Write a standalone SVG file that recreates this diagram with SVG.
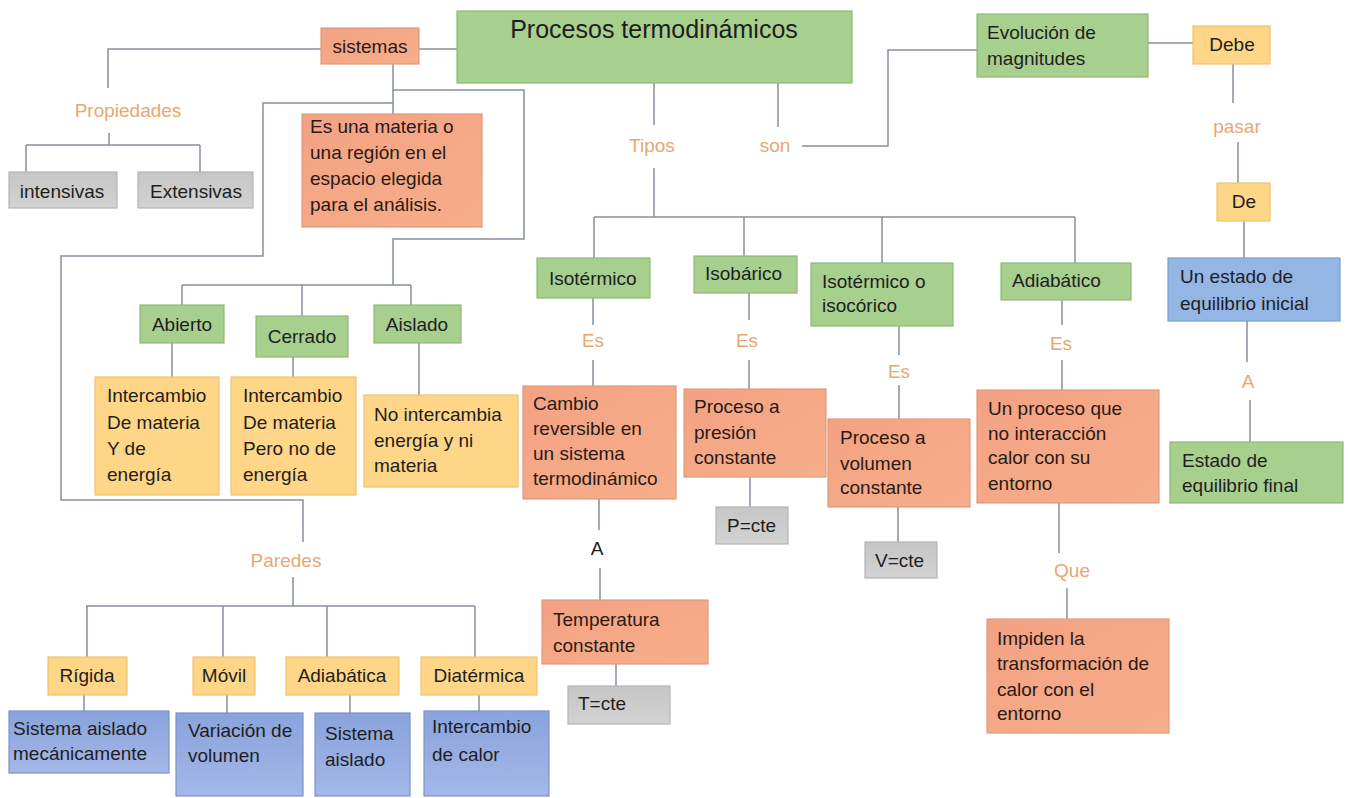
<svg xmlns="http://www.w3.org/2000/svg" width="1348" height="798" viewBox="0 0 1348 798">
<defs>
<style>
.g{fill:#A7CF8E;stroke:#8DB974;stroke-width:1.2}
.o{fill:url(#og);stroke:#E29A79;stroke-width:1.2}
.y{fill:#FFD687;stroke:#F1C46E;stroke-width:1.2}
.k{fill:url(#kg);stroke:#B4B4B4;stroke-width:1.2}
.b{fill:url(#bg);stroke:#7B93C9;stroke-width:1.2}
.lb{fill:#93B6E5;stroke:#7C9FD0;stroke-width:1.2}
text{font-family:"Liberation Sans",Arial,sans-serif;font-size:19px;fill:#1E1E1E}
.c{text-anchor:middle}
.lab{fill:#E8A772}
.dk{fill:#2A1A14}
#conn path{fill:none;stroke:#86909E;stroke-width:1.5}
</style>
<linearGradient id="og" x1="0" y1="0" x2="1" y2="1"><stop offset="0" stop-color="#F3A283"/><stop offset="1" stop-color="#F7AE8A"/></linearGradient>
<linearGradient id="kg" x1="0" y1="0" x2="0" y2="1"><stop offset="0" stop-color="#C6C6C6"/><stop offset="1" stop-color="#D2D2D2"/></linearGradient>
<linearGradient id="bg" x1="0" y1="0" x2="0" y2="1"><stop offset="0" stop-color="#8AA3DC"/><stop offset="1" stop-color="#A4B7E8"/></linearGradient>
</defs>
<rect width="1348" height="798" fill="#FFFFFF"/>
<g id="conn">
<path d="M321,49 H108 V88"/>
<path d="M109,133 V145 M26,145 H200 M26,145 V172 M200,145 V172"/>
<path d="M419,49 H457"/>
<path d="M393,64 V114"/>
<path d="M393,90 H524 V239 H393 V285"/>
<path d="M393,103 H263 V256 H61 V500 H303 V542"/>
<path d="M293,577 V606 M86,606 H475 M87,606 V657 M223,606 V657 M327,606 V657 M475,606 V657"/>
<path d="M84,695 V711 M227,695 V713 M350,695 V713 M479,695 V711"/>
<path d="M182,285 H411 M182,285 V305 M302,285 V316 M411,285 V305"/>
<path d="M172,343 V377 M293,357 V377 M419,343 V395"/>
<path d="M654,83 V125 M654,168 V217 M594,217 H1075 M594,217 V258 M744,217 V256 M882,217 V263 M1075,217 V263"/>
<path d="M778,83 V127 M802,146 H888 V50 H977"/>
<path d="M1148,43 H1193 M1233,64 V103 M1238,142 V183 M1244,221 V258 M1247,321 V362 M1250,400 V442"/>
<path d="M593,298 V325 M593,360 V386"/>
<path d="M749,293 V320 M749,360 V389"/>
<path d="M899,326 V355 M899,385 V419"/>
<path d="M1062,300 V325 M1062,360 V390"/>
<path d="M599,499 V530 M600,568 V600"/>
<path d="M750,477 V507 M898,507 V542 M616,664 V686"/>
<path d="M1059,503 V553 M1067,588 V619"/>
</g>
<g id="labels">
<text class="lab c" x="128" y="117">Propiedades</text>
<text class="lab c" x="652" y="152">Tipos</text>
<text class="lab c" x="775" y="152">son</text>
<text class="lab c" x="1237" y="133">pasar</text>
<text class="lab c" x="1248" y="388">A</text>
<text class="lab c" x="593" y="347">Es</text>
<text class="lab c" x="747" y="347">Es</text>
<text class="lab c" x="899" y="378">Es</text>
<text class="lab c" x="1061" y="350">Es</text>
<text class="lab c" x="1072" y="577">Que</text>
<text class="lab c" x="286" y="567">Paredes</text>
<text class="c" x="597" y="555">A</text>
</g>
<g id="n-procesos"><rect class="g" x="457" y="11" width="395" height="72"/><text class="c" x="654" y="38" style="font-size:25px">Procesos termodinámicos</text></g>
<g id="n-sistemas"><rect class="o" x="321" y="28" width="98" height="36"/><text class="c dk" x="370" y="53">sistemas</text></g>
<g id="n-evolucion"><rect class="g" x="977" y="14" width="171" height="63"/><text x="987" y="39">Evolución de</text><text x="987" y="65">magnitudes</text></g>
<g id="n-debe"><rect class="y" x="1193" y="26" width="77" height="38"/><text class="c" x="1232" y="51">Debe</text></g>
<g id="n-de"><rect class="y" x="1217" y="183" width="53" height="38"/><text class="c" x="1244" y="208">De</text></g>
<g id="n-inicial"><rect class="lb" x="1168" y="258" width="172" height="63"/><text x="1180" y="283">Un estado de</text><text x="1180" y="310">equilibrio inicial</text></g>
<g id="n-final"><rect class="g" x="1170" y="442" width="173" height="61"/><text x="1182" y="467">Estado de</text><text x="1182" y="492">equilibrio final</text></g>
<g id="n-intensivas"><rect class="k" x="9" y="172" width="108" height="36"/><text class="c" x="62" y="198">intensivas</text></g>
<g id="n-extensivas"><rect class="k" x="138" y="172" width="115" height="36"/><text class="c" x="196" y="198">Extensivas</text></g>
<g id="n-materia"><rect class="o" x="302" y="114" width="180" height="113"/><text class="dk" x="310" y="133">Es una materia o</text><text class="dk" x="310" y="159">una región en el</text><text class="dk" x="310" y="185">espacio elegida</text><text class="dk" x="310" y="211">para el análisis.</text></g>
<g id="n-abierto"><rect class="g" x="140" y="305" width="84" height="38"/><text class="c" x="182" y="331">Abierto</text></g>
<g id="n-cerrado"><rect class="g" x="256" y="316" width="92" height="41"/><text class="c" x="302" y="343">Cerrado</text></g>
<g id="n-aislado"><rect class="g" x="374" y="305" width="87" height="38"/><text class="c" x="417" y="331">Aislado</text></g>
<g id="n-inter1"><rect class="y" x="95" y="377" width="124" height="118"/><text x="107" y="402">Intercambio</text><text x="107" y="429">De materia</text><text x="107" y="455">Y de</text><text x="107" y="481">energía</text></g>
<g id="n-inter2"><rect class="y" x="231" y="377" width="125" height="118"/><text x="243" y="402">Intercambio</text><text x="243" y="429">De materia</text><text x="243" y="455">Pero no de</text><text x="243" y="481">energía</text></g>
<g id="n-nointer"><rect class="y" x="364" y="395" width="154" height="92"/><text x="374" y="421">No intercambia</text><text x="374" y="447">energía y ni</text><text x="374" y="472">materia</text></g>
<g id="n-isotermico"><rect class="g" x="537" y="258" width="113" height="40"/><text x="549" y="285">Isotérmico</text></g>
<g id="n-isobarico"><rect class="g" x="694" y="256" width="103" height="37"/><text x="705" y="280">Isobárico</text></g>
<g id="n-isocorico"><rect class="g" x="811" y="263" width="142" height="63"/><text x="822" y="288">Isotérmico o</text><text x="822" y="312">isocórico</text></g>
<g id="n-adiabatico"><rect class="g" x="1001" y="263" width="130" height="37"/><text x="1012" y="287">Adiabático</text></g>
<g id="n-cambio"><rect class="o" x="523" y="386" width="153" height="113"/><text class="dk" x="533" y="410">Cambio</text><text class="dk" x="533" y="435">reversible en</text><text class="dk" x="533" y="460">un sistema</text><text class="dk" x="533" y="485">termodinámico</text></g>
<g id="n-presion"><rect class="o" x="684" y="389" width="142" height="88"/><text class="dk" x="694" y="413">Proceso a</text><text class="dk" x="694" y="439">presión</text><text class="dk" x="694" y="464">constante</text></g>
<g id="n-volumen"><rect class="o" x="828" y="419" width="142" height="88"/><text class="dk" x="840" y="444">Proceso a</text><text class="dk" x="840" y="470">volumen</text><text class="dk" x="840" y="494">constante</text></g>
<g id="n-unproceso"><rect class="o" x="977" y="390" width="182" height="113"/><text class="dk" x="988" y="415">Un proceso que</text><text class="dk" x="988" y="440">no interacción</text><text class="dk" x="988" y="464">calor con su</text><text class="dk" x="988" y="490">entorno</text></g>
<g id="n-pcte"><rect class="k" x="716" y="507" width="72" height="37"/><text x="727" y="532">P=cte</text></g>
<g id="n-vcte"><rect class="k" x="865" y="542" width="72" height="36"/><text x="875" y="567">V=cte</text></g>
<g id="n-temperatura"><rect class="o" x="542" y="600" width="166" height="64"/><text class="dk" x="553" y="626">Temperatura</text><text class="dk" x="553" y="652">constante</text></g>
<g id="n-tcte"><rect class="k" x="568" y="686" width="102" height="38"/><text x="578" y="710">T=cte</text></g>
<g id="n-impiden"><rect class="o" x="987" y="619" width="182" height="114"/><text class="dk" x="997" y="645">Impiden la</text><text class="dk" x="997" y="670">transformación de</text><text class="dk" x="997" y="696">calor con el</text><text class="dk" x="997" y="720">entorno</text></g>
<g id="n-rigida"><rect class="y" x="48" y="657" width="79" height="38"/><text class="c" x="87" y="682">Rígida</text></g>
<g id="n-movil"><rect class="y" x="193" y="657" width="62" height="38"/><text class="c" x="224" y="682">Móvil</text></g>
<g id="n-adiabatica"><rect class="y" x="286" y="657" width="113" height="38"/><text class="c" x="342" y="682">Adiabática</text></g>
<g id="n-diatermica"><rect class="y" x="421" y="657" width="116" height="38"/><text class="c" x="479" y="682">Diatérmica</text></g>
<g id="n-mecanic"><rect class="b" x="9" y="711" width="160" height="62"/><text x="13" y="735">Sistema aislado</text><text x="13" y="760">mecánicamente</text></g>
<g id="n-variacion"><rect class="b" x="176" y="713" width="127" height="83"/><text x="188" y="737">Variación de</text><text x="188" y="762">volumen</text></g>
<g id="n-sisaislado"><rect class="b" x="315" y="713" width="95" height="83"/><text x="325" y="740">Sistema</text><text x="325" y="766">aislado</text></g>
<g id="n-calor"><rect class="b" x="424" y="711" width="125" height="85"/><text x="432" y="733">Intercambio</text><text x="432" y="761">de calor</text></g>
</svg>
